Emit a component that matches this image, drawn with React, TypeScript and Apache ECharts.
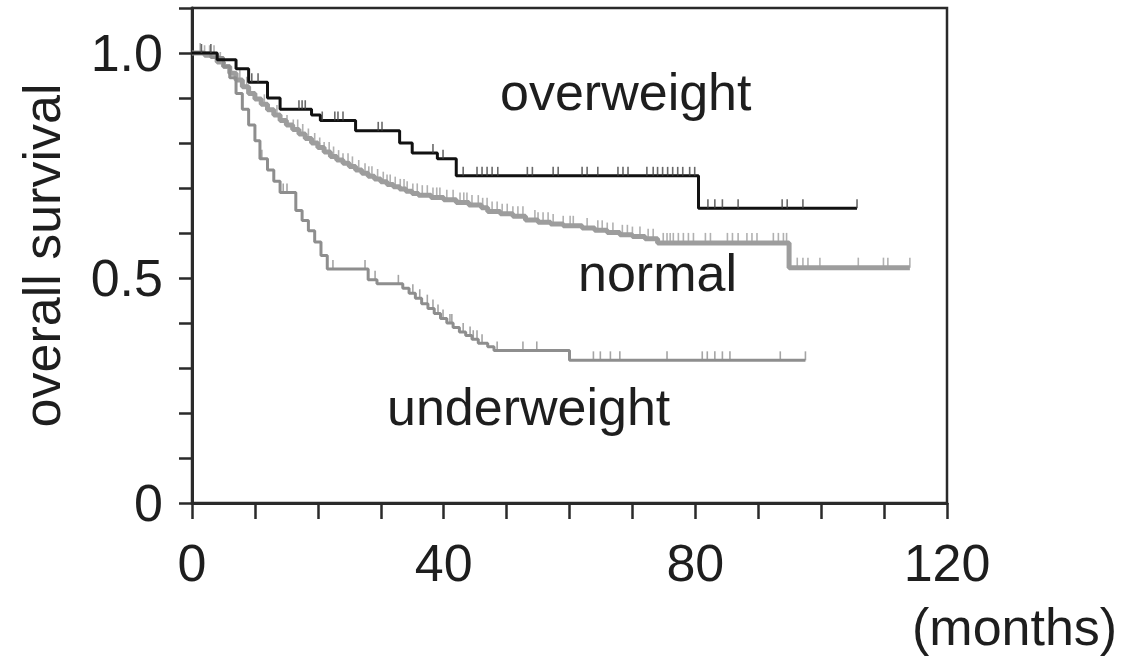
import React, { useEffect, useRef } from "react";
import * as echarts from "echarts";

const FONT = '"Liberation Sans", Arial, Helvetica, sans-serif';

// x-axis ticks (months) and y-axis ticks (survival)
const xTickLabels = [0, 40, 80, 120];
const yTickLabels = ["0", "0.5", "1.0"];

// Kaplan–Meier step data: event times (months) and survival after each time
const overweightT = [0, 4, 7, 9, 12, 14, 19, 20.4, 26, 33, 35, 39, 42, 80.5];
const overweightS = [1.0, 0.985, 0.965, 0.935, 0.9, 0.875, 0.862, 0.85, 0.827, 0.8, 0.778, 0.765, 0.727, 0.655];
const overweightEnd = 105.7;
const overweightCensor = [1.5, 3, 9.5, 10.5, 17, 17.5, 18, 20.7, 22.7, 23.2, 24, 29.6, 30.2, 38.3, 39.9, 43.1, 45.3, 46.1, 46.9, 47.7, 48.6, 53.3, 54.1, 57.4, 58.2, 62, 62.8, 64.5, 67.7, 68.5, 69.3, 72.3, 73.3, 74, 74.8, 75.6, 76.4, 77.2, 78, 79.1, 79.9, 82, 83.1, 84.3, 86.8, 93.8, 94.6, 97.1, 105.7];

const normalT = [0, 2, 4, 5, 6, 7, 8, 9, 10, 11, 12, 13, 14, 15, 16, 17, 18, 19, 20, 21, 22, 23, 24, 25, 26, 27, 28, 29, 30, 31, 32, 33, 34, 35, 36, 38, 40, 42, 44, 46, 47, 49, 51, 53, 55, 57, 59, 62, 64, 66, 68, 70, 72, 74, 94.9];
const normalS = [1.0, 0.995, 0.98, 0.97, 0.955, 0.94, 0.925, 0.91, 0.898, 0.886, 0.874, 0.862, 0.85, 0.84, 0.83, 0.82, 0.81, 0.8, 0.79, 0.78, 0.77, 0.762, 0.755, 0.748, 0.74, 0.733, 0.726, 0.72, 0.714, 0.708, 0.703, 0.698, 0.693, 0.688, 0.684, 0.679, 0.674, 0.668, 0.662, 0.656, 0.648, 0.643, 0.637, 0.629, 0.624, 0.62, 0.616, 0.611, 0.606, 0.601, 0.596, 0.592, 0.587, 0.578, 0.523];
const normalEnd = 114.1;
const normalCensor = [1.3, 2, 2.8, 3.5, 4.5, 7.6, 8.7, 11.5, 13.5, 15.1, 16.1, 16.8, 17.6, 18.5, 19.5, 20.3, 21, 21.8, 22.5, 23.3, 24, 24.8, 25.5, 26.5, 27.5, 28.1, 28.6, 29.5, 30.4, 31, 31.5, 32.3, 33.1, 33.7, 34.2, 35.1, 35.8, 36.6, 37.4, 38.3, 38.9, 39.4, 40.5, 41.5, 42.6, 43.2, 43.7, 44.5, 45.5, 46.2, 46.9, 47.7, 48.5, 49.3, 50.1, 51, 51.8, 52.6, 54.5, 55, 55.8, 56.6, 57.4, 59, 60.1, 60.6, 62.8, 64.5, 65.2, 66, 66.9, 68.4, 69.2, 70, 71.2, 72.5, 73.3, 74.9, 75.5, 76, 76.5, 77.3, 78.1, 78.9, 79.7, 81.6, 82.4, 85.1, 85.9, 86.8, 88.2, 89, 89.8, 92.4, 93.2, 94, 94.5, 96.2, 97.1, 97.9, 99.8, 105.9, 109.9, 110.6, 114.1];

const underweightT = [0, 3, 5, 6, 7, 8, 9, 10, 10.8, 12, 13, 14, 16.5, 17.5, 18.5, 19.5, 20.5, 21.5, 28, 29.4, 33.5, 34.5, 35.5, 36.5, 37.5, 38.5, 39.5, 40.5, 41.5, 42.5, 43.5, 44.5, 45.5, 47, 48, 60];
const underweightS = [1.0, 0.99, 0.97, 0.945, 0.91, 0.875, 0.84, 0.805, 0.765, 0.74, 0.715, 0.69, 0.65, 0.628, 0.605, 0.58, 0.55, 0.52, 0.496, 0.487, 0.477, 0.466, 0.455, 0.443, 0.432, 0.421, 0.41, 0.4, 0.39, 0.38, 0.372, 0.364, 0.355, 0.347, 0.339, 0.317];
const underweightEnd = 97.5;
const underweightCensor = [11.1, 14.5, 15.1, 22.4, 27.5, 29.1, 32.8, 35.1, 36.2, 37.4, 38.3, 39.1, 39.9, 41, 41.3, 43.1, 44.2, 44.7, 45.3, 46.1, 48.5, 52.6, 54.8, 63.8, 64.9, 66.5, 68, 75.5, 81.1, 81.9, 83.1, 84.3, 85.5, 93.5, 97.5];

const groupNames = ["overweight", "normal", "underweight"];

function stepData(t: number[], s: number[], end: number) {
  const d = t.map((v, i) => [v, s[i]]);
  d.push([end, s[s.length - 1]]);
  return d;
}
function stepAt(t: number[], s: number[], x: number) {
  let v = s[0];
  for (let i = 0; i < t.length; i++) if (t[i] <= x) v = s[i];
  return v;
}
function censorData(c: number[], t: number[], s: number[]) {
  return c.map((x) => [x, stepAt(t, s, x)]);
}

export default function App() {
  const ref = useRef<HTMLDivElement>(null);
  useEffect(() => {
    if (!ref.current) return;
    const chart = echarts.init(ref.current, undefined, { renderer: "svg" });
    const axisColor = "#2a2a2a";
    const textColor = "#1e1e1e";
    const censorSeries = (name: string, data: number[][], color: string, z: number, h: number) => ({
      name,
      type: "scatter",
      data,
      symbol: "rect",
      symbolSize: [1.6, h],
      symbolOffset: [0, -h / 2],
      itemStyle: { color },
      z,
      silent: true,
    });
    chart.setOption({
      animation: false,
      grid: {
        left: 192,
        right: 186,
        top: 8,
        bottom: 153,
        show: true,
        borderColor: axisColor,
        borderWidth: 2.5,
        containLabel: false,
        outerBoundsMode: "none",
      },
      xAxis: {
        type: "value",
        min: 0,
        max: 120,
        interval: 10,
        axisLine: { show: true, onZero: false, lineStyle: { color: axisColor, width: 3 } },
        axisTick: { show: true, length: 16, lineStyle: { color: axisColor, width: 2.5 } },
        splitLine: { show: false },
        axisLabel: {
          formatter: (v: number) => (xTickLabels.includes(v) ? String(v) : ""),
          fontSize: 52,
          fontFamily: FONT,
          color: textColor,
          margin: 34,
        },
      },
      yAxis: {
        type: "value",
        min: 0,
        max: 1.1,
        interval: 0.1,
        name: "overall survival",
        nameLocation: "middle",
        nameGap: 124,
        nameRotate: 90,
        nameTextStyle: { fontSize: 52, fontFamily: FONT, color: textColor },
        axisLine: { show: true, lineStyle: { color: axisColor, width: 3 } },
        axisTick: { show: true, length: 13, lineStyle: { color: axisColor, width: 2.5 } },
        splitLine: { show: false },
        axisLabel: {
          formatter: (v: number) => {
            if (Math.abs(v) < 1e-6) return yTickLabels[0];
            if (Math.abs(v - 0.5) < 1e-6) return yTickLabels[1];
            if (Math.abs(v - 1) < 1e-6) return yTickLabels[2];
            return "";
          },
          fontSize: 52,
          fontFamily: FONT,
          color: textColor,
          margin: 29,
          padding: [0, 0, 6, 0],
        },
      },
      graphic: [
        {
          type: "text",
          style: { text: groupNames[0], x: 500, y: 92, font: `52px ${FONT}`, fill: textColor, textAlign: "left", textVerticalAlign: "middle", align: "left", verticalAlign: "middle" },
        },
        {
          type: "text",
          style: { text: groupNames[1], x: 578, y: 273, font: `52px ${FONT}`, fill: textColor, textAlign: "left", textVerticalAlign: "middle", align: "left", verticalAlign: "middle" },
        },
        {
          type: "text",
          style: { text: groupNames[2], x: 387, y: 407, font: `52px ${FONT}`, fill: textColor, textAlign: "left", textVerticalAlign: "middle", align: "left", verticalAlign: "middle" },
        },
        {
          type: "text",
          style: { text: "(months)", x: 912, y: 627, font: `52px ${FONT}`, fill: textColor, textAlign: "left", textVerticalAlign: "middle", align: "left", verticalAlign: "middle" },
        },
      ],
      series: [
        {
          name: "normal",
          type: "line",
          step: "end",
          data: stepData(normalT, normalS, normalEnd),
          showSymbol: false,
          lineStyle: { color: "#9d9d9d", width: 5 },
          z: 2,
          silent: true,
        },
        censorSeries("normal censored", censorData(normalCensor, normalT, normalS), "#9d9d9d", 2, 10),
        {
          name: "underweight",
          type: "line",
          step: "end",
          data: stepData(underweightT, underweightS, underweightEnd),
          showSymbol: false,
          lineStyle: { color: "#8e8e8e", width: 3 },
          z: 3,
          silent: true,
        },
        censorSeries("underweight censored", censorData(underweightCensor, underweightT, underweightS), "#8e8e8e", 3, 9),
        {
          name: "overweight",
          type: "line",
          step: "end",
          data: stepData(overweightT, overweightS, overweightEnd),
          showSymbol: false,
          lineStyle: { color: "#111111", width: 3 },
          z: 4,
          silent: true,
        },
        censorSeries("overweight censored", censorData(overweightCensor, overweightT, overweightS), "#444444", 4, 9),
      ],
    });
    return () => chart.dispose();
  }, []);
  return (
    <div
      ref={ref}
      style={{ position: "absolute", left: 0, top: 0, width: 1133, height: 656, background: "#fff" }}
    />
  );
}
